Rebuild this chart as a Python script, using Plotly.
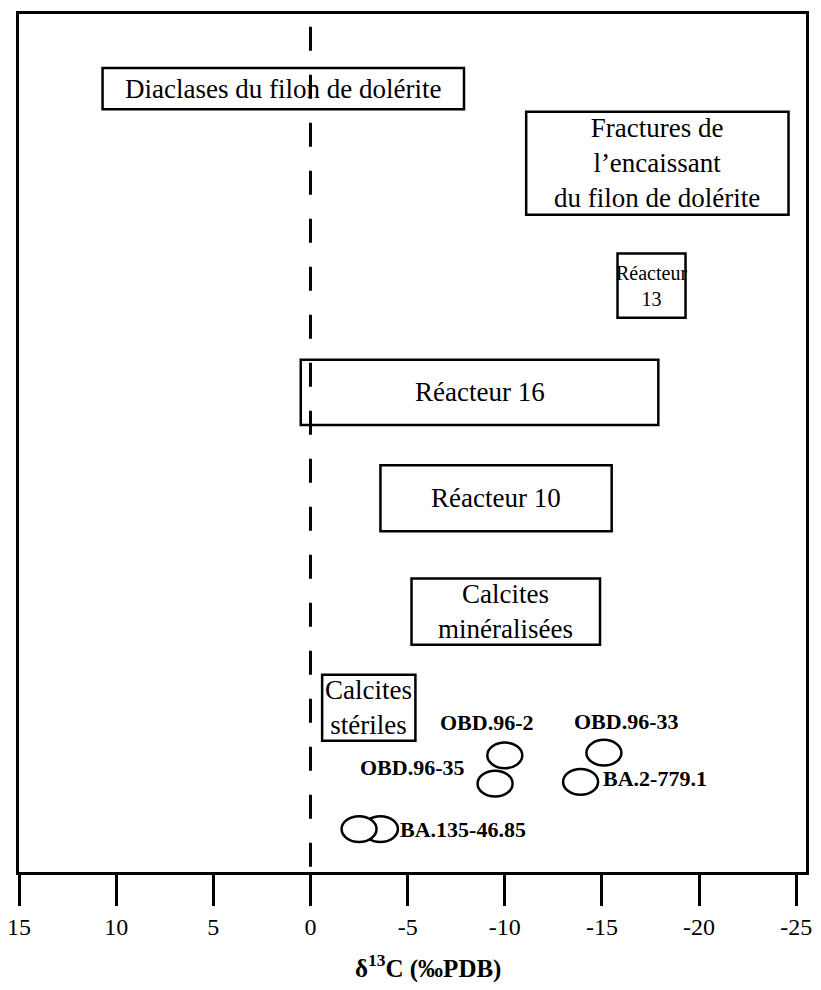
import plotly.graph_objects as go

# x = delta 13C (permil PDB), y = arbitrary vertical level (0 bottom .. 100 top)
box_labels = ["Diaclases du filon de dolérite",
              "Fractures de<br>l’encaissant<br>du filon de dolérite",
              "Réacteur<br>13",
              "Réacteur 16",
              "Réacteur 10",
              "Calcites<br>minéralisées",
              "Calcites<br>stériles"]
box_x_left = [10.7, -11.1, -15.8, 0.5, -3.6, -5.2, -0.6]
box_x_right = [-7.9, -24.6, -19.3, -17.9, -15.5, -14.9, -5.4]
box_y_low = [88.9, 76.6, 64.6, 52.1, 39.7, 26.5, 15.3]
box_y_high = [93.7, 88.6, 72.1, 59.7, 47.4, 34.2, 23.0]
box_font = [27, 27, 20, 27, 27, 27, 27]

sample_names = ["OBD.96-2", "OBD.96-35", "OBD.96-33", "BA.2-779.1", "BA.135-46.85", "BA.135-46.85"]
sample_d13c = [-10.0, -9.5, -15.1, -13.9, -3.6, -2.5]
sample_level = [13.6, 10.3, 13.9, 10.5, 5.0, 5.0]

tick_vals = [15, 10, 5, 0, -5, -10, -15, -20, -25]
tick_text = ["15", "10", "5", "0", "-5", "-10", "-15", "-20", "-25"]

SERIF = "Liberation Serif"
ELL_RX = 0.9   # half width of sample ellipses, in permil
ELL_RY = 1.5   # half height, in level units

# where each sample label sits relative to its ellipse
label_pos = {
    "OBD.96-2": dict(xanchor="center", yanchor="middle", xshift=-18, yshift=33),
    "OBD.96-35": dict(xanchor="right", yanchor="middle", xshift=-28, yshift=16),
    "OBD.96-33": dict(xanchor="center", yanchor="middle", xshift=23, yshift=31),
    "BA.2-779.1": dict(xanchor="left", yanchor="middle", xshift=20, yshift=3),
    "BA.135-46.85": dict(xanchor="left", yanchor="middle", xshift=18, yshift=0),
}

fig = go.Figure()
# invisible trace so the axes exist
fig.add_trace(go.Scatter(x=sample_d13c, y=sample_level, mode="markers",
                         marker=dict(size=1, opacity=0), hoverinfo="skip", showlegend=False))

shapes = []
annotations = []

# zero reference line
shapes.append(dict(type="line", xref="x", yref="y", x0=0, x1=0, y0=0.6, y1=100,
                   line=dict(color="black", width=3, dash="24px,24px"), layer="below"))

for lab, xl, xr, yl, yh, fs in zip(box_labels, box_x_left, box_x_right, box_y_low, box_y_high, box_font):
    shapes.append(dict(type="rect", xref="x", yref="y", x0=xl, x1=xr, y0=yl, y1=yh,
                       line=dict(color="black", width=2.5), fillcolor="rgba(0,0,0,0)"))
    annotations.append(dict(x=(xl + xr) / 2, y=(yl + yh) / 2, xref="x", yref="y", text=lab,
                            showarrow=False, xanchor="center", yanchor="middle",
                            font=dict(family=SERIF, size=fs, color="black")))

for name, xv, yv in zip(sample_names, sample_d13c, sample_level):
    shapes.append(dict(type="circle", xref="x", yref="y",
                       x0=xv - ELL_RX, x1=xv + ELL_RX, y0=yv - ELL_RY, y1=yv + ELL_RY,
                       line=dict(color="black", width=2.5), fillcolor="white"))

done = set()
for name, xv, yv in zip(sample_names, sample_d13c, sample_level):
    if name in done:
        continue
    done.add(name)
    annotations.append(dict(x=xv, y=yv, xref="x", yref="y", text="<b>" + name + "</b>",
                            showarrow=False, font=dict(family=SERIF, size=22, color="black"),
                            **label_pos[name]))

annotations.append(dict(x=0.52, y=-0.11, xref="paper", yref="paper",
                        text="<b>δ<sup>13</sup>C (‰PDB)</b>", showarrow=False,
                        xanchor="center", yanchor="middle",
                        font=dict(family=SERIF, size=25, color="black")))

# page body has an 8px margin, so the figure is a bit smaller than the window
fig.update_layout(
    width=813, height=974,
    margin=dict(l=11, r=15, t=6, b=110),
    paper_bgcolor="white", plot_bgcolor="white",
    shapes=shapes, annotations=annotations,
    showlegend=False,
    xaxis=dict(range=[15, -25.5], tickvals=tick_vals, ticktext=tick_text,
               ticks="outside", ticklen=31, tickwidth=3, tickcolor="black",
               ticklabeloverflow="allow", automargin=False,
               showline=True, linecolor="black", linewidth=3, mirror=True,
               showgrid=False, zeroline=False,
               tickfont=dict(family=SERIF, size=24, color="black")),
    yaxis=dict(range=[0, 100], showticklabels=False, ticks="",
               showline=True, linecolor="black", linewidth=3, mirror=True,
               showgrid=False, zeroline=False, automargin=False),
)

fig.write_html("out.html")
